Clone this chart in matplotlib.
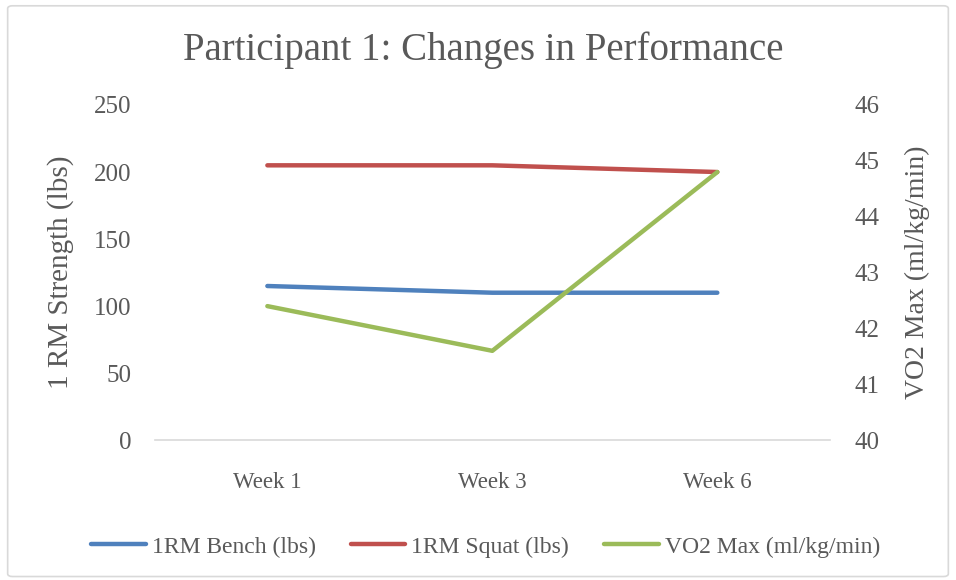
import matplotlib
matplotlib.use("Agg")
import matplotlib.pyplot as plt
from matplotlib.patches import FancyBboxPatch

# data
weeks = ["Week 1", "Week 3", "Week 6"]
bench = [115, 110, 110]
squat = [205, 205, 200]
vo2max = [42.4, 41.6, 44.8]

blue = "#4F81BD"
red = "#C0504D"
green = "#9BBB59"
text_color = "#595959"

plt.rcParams["font.family"] = ["Liberation Serif", "DejaVu Serif"]

fig = plt.figure(figsize=(9.56, 5.8), dpi=100)
ax = fig.add_axes([0.162, 0.241, 0.706, 0.578])
ax2 = ax.twinx()

x = range(len(weeks))
l1, = ax.plot(x, bench, color=blue, lw=3.2, solid_capstyle="round", label="1RM Bench (lbs)")
l2, = ax.plot(x, squat, color=red, lw=3.2, solid_capstyle="round", label="1RM Squat (lbs)")
l3, = ax2.plot(x, vo2max, color=green, lw=3.2, solid_capstyle="round", label="VO2 Max (ml/kg/min)")

ax.set_xlim(-0.5, 2.5)
ax.set_ylim(0, 250)
ax.set_yticks(range(0, 251, 50))
ax2.set_ylim(40, 46)
ax2.set_yticks(range(40, 47))
ax.set_xticks(list(x))
ax.set_xticklabels(weeks)

for a in (ax, ax2):
    for s in a.spines.values():
        s.set_visible(False)
    a.tick_params(length=0, labelsize=18, colors=text_color)
ax.spines["bottom"].set_visible(True)
ax.spines["bottom"].set_color("#D9D9D9")
ax.spines["bottom"].set_linewidth(1.2)
ax.tick_params(axis="x", labelsize=16.5, pad=23)
ax.tick_params(axis="y", pad=17)
ax2.tick_params(axis="y", pad=18)

ax.set_ylabel("1 RM Strength (lbs)", fontsize=21, color=text_color, labelpad=14)
ax2.set_ylabel("VO2 Max (ml/kg/min)", fontsize=20, color=text_color, labelpad=18)

fig.text(0.505, 0.913, "Participant 1: Changes in Performance", ha="center", va="center",
         fontsize=28, color=text_color)

fig.legend(handles=[l1, l2, l3], loc="center", bbox_to_anchor=(0.508, 0.057), ncol=3,
           frameon=False, fontsize=17, handlelength=2.3, handletextpad=0.25,
           columnspacing=1.5, labelcolor=text_color)

border = FancyBboxPatch((0.008, 0.006), 0.984, 0.984, boxstyle="round,pad=0,rounding_size=0.005",
                        transform=fig.transFigure, facecolor="none", edgecolor="#D9D9D9", lw=1.2)
fig.patches.append(border)

fig.savefig("out.png", dpi=100, facecolor="white")
